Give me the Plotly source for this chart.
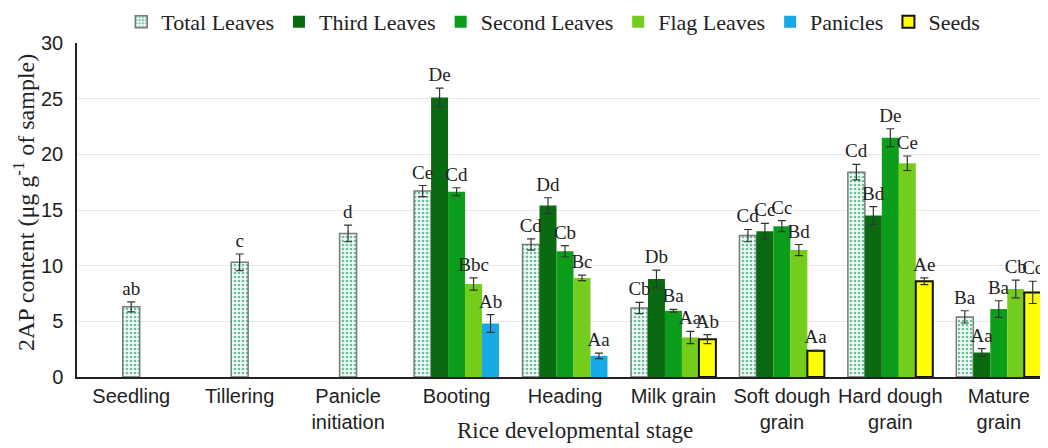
import plotly.graph_objects as go

stages = ["Seedling", "Tillering", "Panicle<br>initiation", "Booting", "Heading",
          "Milk grain", "Soft dough<br>grain", "Hard dough<br>grain", "Mature<br>grain"]

total = [6.3, 10.3, 12.9, 16.7, 11.9, 6.2, 12.7, 18.4, 5.4]
total_err = [0.45, 0.75, 0.75, 0.5, 0.5, 0.5, 0.55, 0.7, 0.55]
total_lbl = ["ab", "c", "d", "Ce", "Cd", "Cb", "Cd", "Cd", "Ba"]

third = [None, None, None, 25.1, 15.4, 8.8, 13.1, 14.5, 2.2]
third_err = [None, None, None, 0.85, 0.7, 0.8, 0.7, 0.8, 0.35]
third_lbl = ["", "", "", "De", "Dd", "Db", "Cc", "Bd", "Aa"]

second = [None, None, None, 16.65, 11.3, 5.95, 13.55, 21.5, 6.1]
second_err = [None, None, None, 0.35, 0.5, 0.12, 0.5, 0.8, 0.75]
second_lbl = ["", "", "", "Cd", "Cb", "Ba", "Cc", "De", "Ba"]

flag = [None, None, None, 8.35, 8.9, 3.55, 11.4, 19.2, 7.9]
flag_err = [None, None, None, 0.55, 0.25, 0.55, 0.5, 0.65, 0.8]
flag_lbl = ["", "", "", "Bbc", "Bc", "Aa", "Bd", "Ce", "Cb"]

panicles = [None, None, None, 4.8, 1.9, None, None, None, None]
panicles_err = [None, None, None, 0.8, 0.25, None, None, None, None]
panicles_lbl = ["", "", "", "Ab", "Aa", "", "", "", ""]

seeds = [None, None, None, None, None, 3.4, 2.35, 8.6, 7.6]
seeds_err = [None, None, None, None, None, 0.4, 0.05, 0.3, 1.0]
seeds_lbl = ["", "", "", "", "", "Ab", "Aa", "Ae", "Cc"]

y_ticks = [0, 5, 10, 15, 20, 25, 30]

SERIF = "Liberation Serif"
SANS = "Liberation Sans"

fig = go.Figure()

err_style = dict(type="data", visible=True, color="#333333", thickness=1.2, width=4)

def add_bar(name, vals, errs, color, group, line_color=None, line_w=0,
            pattern=None, showlegend=True, legendgroup=None):
    marker = dict(color=color, line=dict(color=line_color or color, width=line_w))
    if pattern:
        marker["pattern"] = pattern
    fig.add_trace(go.Bar(
        name=name, x=stages, y=vals, offsetgroup=group,
        error_y=dict(array=errs, **err_style),
        marker=marker, showlegend=showlegend,
        legendgroup=legendgroup or name,
    ))

def add_labels(vals, errs, lbls, group):
    tops = [(v + e) if v is not None else None for v, e in zip(vals, errs)]
    fig.add_trace(go.Bar(
        x=stages, y=tops, offsetgroup=group, text=lbls,
        textposition="outside", constraintext="none", cliponaxis=False,
        textfont=dict(family=SERIF, size=19, color="#222222"),
        marker=dict(color="rgba(0,0,0,0)", line=dict(width=0)),
        showlegend=False, hoverinfo="skip",
    ))

pat = dict(shape=".", fgcolor="#6dbf9c", bgcolor="#f2faf6", size=4, solidity=0.35,
           fillmode="replace")

early = [v if i < 3 else None for i, v in enumerate(total)]
early_err = [e if i < 3 else None for i, e in enumerate(total_err)]
late = [v if i >= 3 else None for i, v in enumerate(total)]
late_err = [e if i >= 3 else None for i, e in enumerate(total_err)]
early_lbl = [l if i < 3 else "" for i, l in enumerate(total_lbl)]
late_lbl = [l if i >= 3 else "" for i, l in enumerate(total_lbl)]

add_bar("Total Leaves", late, late_err, "#f2faf6", "g1", line_color="#7a7a7a",
        line_w=1.5, pattern=pat)
add_bar("Third Leaves", third, third_err, "#0a6a12", "g2")
add_bar("Second Leaves", second, second_err, "#0c9e1b", "g3")
add_bar("Total Leaves", early, early_err, "#f2faf6", "g3", line_color="#7a7a7a",
        line_w=1.5, pattern=pat, showlegend=False, legendgroup="Total Leaves")
add_bar("Flag Leaves", flag, flag_err, "#74cc1c", "g4")
add_bar("Panicles", panicles, panicles_err, "#17a8e6", "g5")
add_bar("Seeds", seeds, seeds_err, "#ffff00", "g5", line_color="#111111", line_w=2)

add_labels(late, late_err, late_lbl, "g1")
add_labels(third, third_err, third_lbl, "g2")
add_labels(second, second_err, second_lbl, "g3")
add_labels(early, early_err, early_lbl, "g3")
add_labels(flag, flag_err, flag_lbl, "g4")
add_labels(panicles, panicles_err, panicles_lbl, "g5")
add_labels(seeds, seeds_err, seeds_lbl, "g5")

fig.update_layout(
    width=1048, height=448,
    margin=dict(l=69, r=3, t=35, b=79, autoexpand=False),
    barmode="group", bargap=0.217, bargroupgap=0,
    plot_bgcolor="white", paper_bgcolor="white",
    showlegend=True,
    legend=dict(orientation="h", x=0.488, xanchor="center",
                yref="container", y=0.969, yanchor="middle",
                font=dict(family=SERIF, size=22, color="#222222"),
                itemwidth=30, tracegroupgap=0, bgcolor="rgba(0,0,0,0)"),
    xaxis=dict(type="category", showline=True, linecolor="#222222", linewidth=1.5,
               ticks="", tickfont=dict(family=SANS, size=20, color="#222222"),
               showgrid=False, automargin=False),
    yaxis=dict(range=[0, 30], tickvals=y_ticks, showline=True, linecolor="#222222",
               linewidth=1.5, ticks="", ticklabelstandoff=8, automargin=False,
               tickfont=dict(family=SANS, size=20, color="#222222"),
               showgrid=True, gridcolor="#e8e8e8", gridwidth=1, zeroline=False),
    annotations=[
        dict(text="Rice developmental stage", xref="paper", yref="paper",
             x=0.51, y=-0.16, xanchor="center", yanchor="middle",
             showarrow=False,
             font=dict(family=SERIF, size=23, color="#222222")),
        dict(text="2AP content (μg g<sup>-1</sup> of sample)", xref="paper", yref="paper",
             x=-0.0543, y=0.521, xanchor="center", yanchor="middle", textangle=-90,
             showarrow=False,
             font=dict(family=SERIF, size=24, color="#222222")),
    ],
)

fig.write_html("out.html")
